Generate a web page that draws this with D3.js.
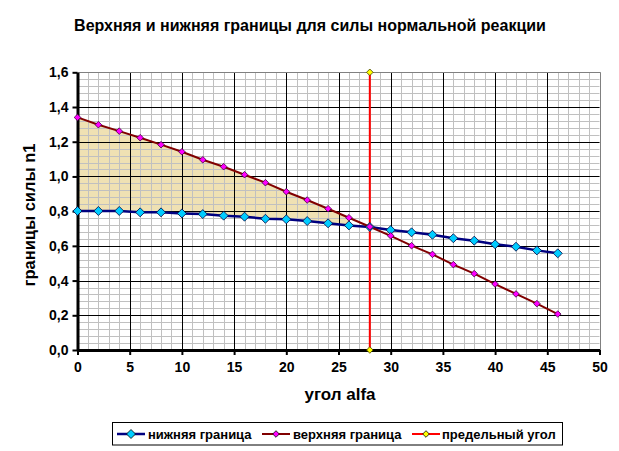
<!DOCTYPE html>
<html><head><meta charset="utf-8">
<script src="https://cdn.jsdelivr.net/npm/d3@7"></script>
<style>
html,body{margin:0;padding:0;background:#fff;}
svg{display:block;font-family:"Liberation Sans",Arial,sans-serif;}
</style></head>
<body><svg id="c" width="619" height="451"></svg>
<script>
const angles = [0,2,4,6,8,10,12,14,16,18,20,22,24,26,28,30,32,34,36,38,40,42,44,46];
const upperBound = [1.340,1.298,1.261,1.223,1.183,1.142,1.096,1.056,1.010,0.964,0.912,0.864,0.814,0.762,0.710,0.658,0.601,0.551,0.492,0.440,0.380,0.323,0.267,0.207];
const lowerBound = [0.801,0.801,0.801,0.793,0.793,0.787,0.783,0.774,0.768,0.756,0.753,0.743,0.730,0.718,0.709,0.691,0.678,0.664,0.644,0.630,0.609,0.595,0.574,0.557];
const fillEndAngle = 26;
const limitAngle = [28, 28];
const limitValue = [0, 1.6];
const xTicks = [0,5,10,15,20,25,30,35,40,45,50];
const yTicks = [0,0.2,0.4,0.6,0.8,1.0,1.2,1.4,1.6];
const seriesNames = ["нижняя граница","верхняя граница","предельный угол"];
const titleText = "Верхняя и нижняя границы для силы нормальной реакции";
const xTitle = "угол alfa";
const yTitle = "границы силы n1";

const svg = d3.select("#c");
const x = d3.scaleLinear().domain([0,50]).range([77.5,599.5]);
const y = d3.scaleLinear().domain([0,1.6]).range([350,72.3]);

// fill between bounds
const fillPts = angles.map((a,i)=>({a,u:upperBound[i],l:lowerBound[i]})).filter(d=>d.a<=fillEndAngle);
svg.append("path").datum(fillPts)
  .attr("d", d3.area().x(d=>x(d.a)).y0(d=>y(d.l)).y1(d=>y(d.u)))
  .attr("fill","#efe1b3");

// minor grid
const g = svg.append("g");
const minorX = d3.range(0,51,1), minorY = d3.range(0,41,1).map(v=>v*0.04);
g.selectAll(".mx").data(minorX).enter().append("line")
  .attr("x1",d=>Math.round(x(d))+0.5).attr("x2",d=>Math.round(x(d))+0.5)
  .attr("y1",y(1.6)).attr("y2",y(0)).attr("stroke","#c0c0c0").attr("stroke-width",1);
g.selectAll(".my").data(minorY).enter().append("line")
  .attr("y1",d=>Math.round(y(d))+0.5).attr("y2",d=>Math.round(y(d))+0.5)
  .attr("x1",x(0)).attr("x2",x(50)).attr("stroke","#c0c0c0").attr("stroke-width",1);
// major grid
g.selectAll(".Mx").data(xTicks.slice(1,-1)).enter().append("line")
  .attr("x1",d=>Math.round(x(d))+0.5).attr("x2",d=>Math.round(x(d))+0.5)
  .attr("y1",y(1.6)).attr("y2",y(0)).attr("stroke","#000").attr("stroke-width",1);
g.selectAll(".My").data(yTicks.slice(1,-1)).enter().append("line")
  .attr("y1",d=>Math.round(y(d))+0.5).attr("y2",d=>Math.round(y(d))+0.5)
  .attr("x1",x(0)).attr("x2",x(50)).attr("stroke","#000").attr("stroke-width",1);
// top/right border
svg.append("path").attr("d",`M${x(0)},${Math.round(y(1.6))+0.5}H${Math.round(x(50))+0.5}V${y(0)}`)
  .attr("fill","none").attr("stroke","#808080").attr("stroke-width",1);

// axes
const fmt = v => d3.format(".1f")(v).replace(".",",");
const ax = svg.append("g").attr("transform",`translate(0,${y(0)})`)
  .call(d3.axisBottom(x).tickValues(xTicks).tickSize(5).tickSizeOuter(0).tickPadding(7));
const ay = svg.append("g").attr("transform",`translate(${x(0)},0)`)
  .call(d3.axisLeft(y).tickValues(yTicks).tickFormat(fmt).tickSize(5).tickSizeOuter(0).tickPadding(4));
[ax,ay].forEach(a=>{
  a.select(".domain").attr("stroke","#000").attr("stroke-width",3);
  a.selectAll(".tick line").attr("stroke","#000").attr("stroke-width",2);
  a.selectAll(".tick text").attr("fill","#000").style("font-size","14px").style("font-weight","bold")
   .style("font-family","'Liberation Sans',Arial,sans-serif");
});

// series
const lowerData = angles.map((a,i)=>({a,v:lowerBound[i]}));
const upperData = angles.map((a,i)=>({a,v:upperBound[i]}));
const line = d3.line().x(d=>x(d.a)).y(d=>y(d.v));
const limitData = limitAngle.map((a,i)=>({a,v:limitValue[i]}));

svg.append("path").datum(lowerData).attr("d",line).attr("fill","none").attr("stroke","#000080").attr("stroke-width",2.5);
svg.append("path").datum(upperData).attr("d",line).attr("fill","none").attr("stroke","#800000").attr("stroke-width",2);
svg.append("path").datum(limitData).attr("d",line).attr("fill","none").attr("stroke","#ff0000").attr("stroke-width",2);

const diamond = s => `M0,${-s}L${s},0L0,${s}L${-s},0Z`;
svg.selectAll(".ld").data(lowerData).enter().append("path")
  .attr("transform",d=>`translate(${x(d.a)},${y(d.v)})`).attr("d",diamond(4.5))
  .attr("fill","#00ccff").attr("stroke","#000040").attr("stroke-width",0.8);
svg.selectAll(".ud").data(upperData).enter().append("path")
  .attr("transform",d=>`translate(${x(d.a)},${y(d.v)})`).attr("d",diamond(3.3))
  .attr("fill","#ff00ff").attr("stroke","#400040").attr("stroke-width",0.8);
svg.selectAll(".lm").data(limitData).enter().append("path")
  .attr("transform",d=>`translate(${x(d.a)},${y(d.v)})`).attr("d",diamond(3.3))
  .attr("fill","#ffff00").attr("stroke","#404000").attr("stroke-width",0.8);

// titles
svg.append("text").attr("x",310).attr("y",31).attr("text-anchor","middle")
  .style("font-size","16px").style("font-weight","bold").text(titleText);
svg.append("text").attr("x",340).attr("y",400).attr("text-anchor","middle")
  .style("font-size","17px").style("font-weight","bold").text(xTitle);
svg.append("text").attr("transform","translate(35,215) rotate(-90)").attr("text-anchor","middle")
  .style("font-size","16.5px").style("font-weight","bold").text(yTitle);

// legend
svg.append("rect").attr("x",112.5).attr("y",422.5).attr("width",450).attr("height",22.5)
  .attr("fill","#fff").attr("stroke","#000").attr("stroke-width",1);
const legItems = [
  {x0:117, color:"#000080", mfill:"#00ccff", ms:4.5, sw:2.5, tx:148},
  {x0:262, color:"#800000", mfill:"#ff00ff", ms:3.3, sw:2, tx:293},
  {x0:412, color:"#ff0000", mfill:"#ffff00", ms:3.3, sw:2, tx:442}
];
legItems.forEach((it,i)=>{
  svg.append("line").attr("x1",it.x0).attr("x2",it.x0+28).attr("y1",434).attr("y2",434)
    .attr("stroke",it.color).attr("stroke-width",it.sw);
  svg.append("path").attr("transform",`translate(${it.x0+14},434)`).attr("d",diamond(it.ms))
    .attr("fill",it.mfill).attr("stroke","#000").attr("stroke-width",0.8);
  svg.append("text").attr("x",it.tx).attr("y",438.5)
    .style("font-size","13px").style("font-weight","bold").text(seriesNames[i]);
});
</script></body></html>
